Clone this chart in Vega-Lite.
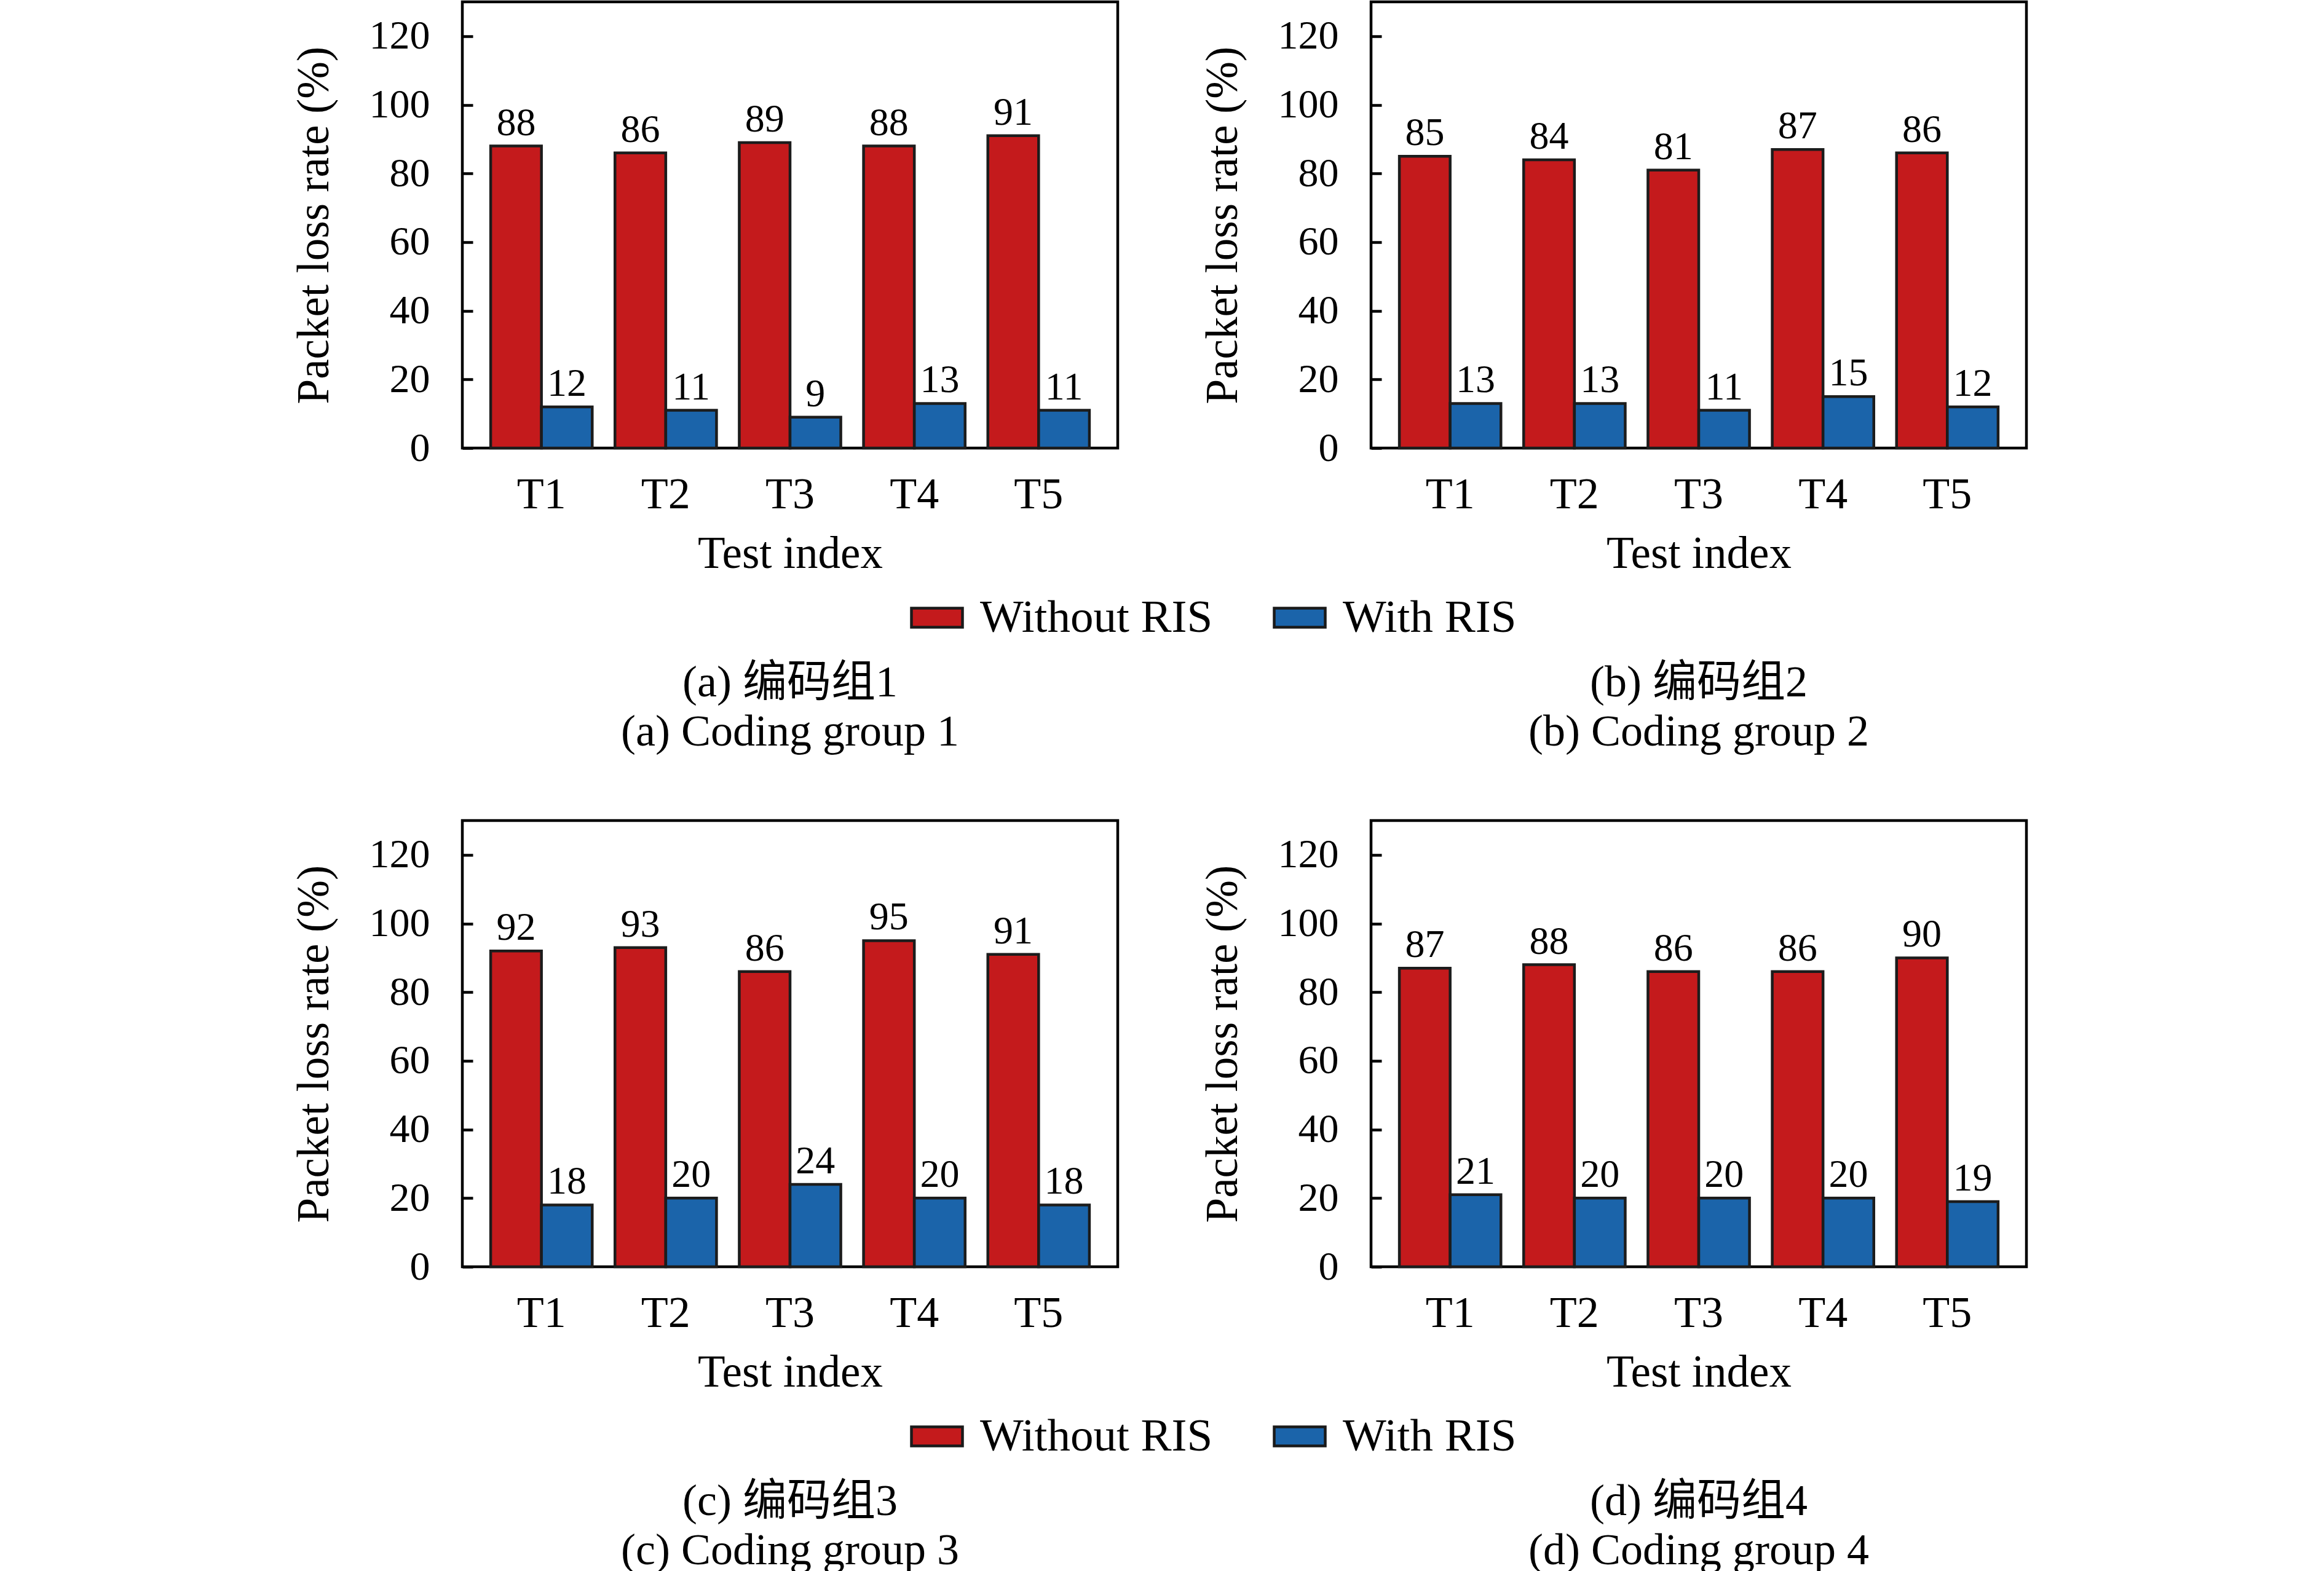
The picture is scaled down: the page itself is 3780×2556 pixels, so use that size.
{
  "$schema": "https://vega.github.io/schema/vega-lite/v6.json",
  "padding": {"left": 472, "top": 0, "right": 0, "bottom": 0},
  "datasets": {
    "bars": [
      {"panel": "a", "test": "T1", "method": "Without RIS", "value": 88},
      {"panel": "a", "test": "T2", "method": "Without RIS", "value": 86},
      {"panel": "a", "test": "T3", "method": "Without RIS", "value": 89},
      {"panel": "a", "test": "T4", "method": "Without RIS", "value": 88},
      {"panel": "a", "test": "T5", "method": "Without RIS", "value": 91},
      {"panel": "a", "test": "T1", "method": "With RIS", "value": 12},
      {"panel": "a", "test": "T2", "method": "With RIS", "value": 11},
      {"panel": "a", "test": "T3", "method": "With RIS", "value": 9},
      {"panel": "a", "test": "T4", "method": "With RIS", "value": 13},
      {"panel": "a", "test": "T5", "method": "With RIS", "value": 11},
      {"panel": "b", "test": "T1", "method": "Without RIS", "value": 85},
      {"panel": "b", "test": "T2", "method": "Without RIS", "value": 84},
      {"panel": "b", "test": "T3", "method": "Without RIS", "value": 81},
      {"panel": "b", "test": "T4", "method": "Without RIS", "value": 87},
      {"panel": "b", "test": "T5", "method": "Without RIS", "value": 86},
      {"panel": "b", "test": "T1", "method": "With RIS", "value": 13},
      {"panel": "b", "test": "T2", "method": "With RIS", "value": 13},
      {"panel": "b", "test": "T3", "method": "With RIS", "value": 11},
      {"panel": "b", "test": "T4", "method": "With RIS", "value": 15},
      {"panel": "b", "test": "T5", "method": "With RIS", "value": 12},
      {"panel": "c", "test": "T1", "method": "Without RIS", "value": 92},
      {"panel": "c", "test": "T2", "method": "Without RIS", "value": 93},
      {"panel": "c", "test": "T3", "method": "Without RIS", "value": 86},
      {"panel": "c", "test": "T4", "method": "Without RIS", "value": 95},
      {"panel": "c", "test": "T5", "method": "Without RIS", "value": 91},
      {"panel": "c", "test": "T1", "method": "With RIS", "value": 18},
      {"panel": "c", "test": "T2", "method": "With RIS", "value": 20},
      {"panel": "c", "test": "T3", "method": "With RIS", "value": 24},
      {"panel": "c", "test": "T4", "method": "With RIS", "value": 20},
      {"panel": "c", "test": "T5", "method": "With RIS", "value": 18},
      {"panel": "d", "test": "T1", "method": "Without RIS", "value": 87},
      {"panel": "d", "test": "T2", "method": "Without RIS", "value": 88},
      {"panel": "d", "test": "T3", "method": "Without RIS", "value": 86},
      {"panel": "d", "test": "T4", "method": "Without RIS", "value": 86},
      {"panel": "d", "test": "T5", "method": "Without RIS", "value": 90},
      {"panel": "d", "test": "T1", "method": "With RIS", "value": 21},
      {"panel": "d", "test": "T2", "method": "With RIS", "value": 20},
      {"panel": "d", "test": "T3", "method": "With RIS", "value": 20},
      {"panel": "d", "test": "T4", "method": "With RIS", "value": 20},
      {"panel": "d", "test": "T5", "method": "With RIS", "value": 19}
    ]
  },
  "config": {
    "font": "'Liberation Serif', 'Noto Sans CJK SC', serif",
    "view": {"stroke": "#000000", "strokeWidth": 4.5},
    "axis": {
      "grid": false,
      "domain": false,
      "labelFont": "'Liberation Serif', serif",
      "labelFontSize": 66,
      "labelColor": "#000000",
      "titleFont": "'Liberation Serif', serif",
      "titleFontSize": 73,
      "titleFontWeight": "normal",
      "titleColor": "#000000"
    },
    "axisX": {"ticks": false, "labelAngle": 0, "labelFontSize": 72, "labelPadding": 40, "titlePadding": 25},
    "axisY": {"tickSize": -17, "tickWidth": 4.5, "tickColor": "#000000", "labelPadding": 70, "titlePadding": 52},
    "legend": {
      "labelFont": "'Liberation Serif', serif",
      "labelFontSize": 75,
      "labelColor": "#000000",
      "labelLimit": 0,
      "labelOffset": 26,
      "columnPadding": 90,
      "symbolType": "M-1,-0.373H1V0.373H-1Z",
      "symbolSize": 6889,
      "symbolStrokeColor": "#1a1a1a",
      "symbolStrokeWidth": 4.5,
      "symbolOpacity": 1
    },
    "title": {
      "orient": "bottom",
      "anchor": "middle",
      "frame": "group",
      "font": "'Liberation Serif', 'Noto Sans CJK SC', serif",
      "fontSize": 72,
      "fontWeight": "normal",
      "lineHeight": 80,
      "offset": 138,
      "color": "#000000"
    }
  },
  "resolve": {"scale": {"color": "independent"}, "legend": {"color": "independent"}},
  "spacing": 102,
  "vconcat": [
    {
      "spacing": 129,
      "hconcat": [
        {
          "width": 1066,
          "height": 726,
          "title": {"text": ["(a) 编码组1", "(a) Coding group 1"]},
          "data": {"name": "bars"},
          "transform": [{"filter": "datum.panel === 'a'"}],
          "encoding": {
            "x": {"field": "test", "type": "nominal", "title": "Test index", "scale": {"paddingInner": 0.183, "paddingOuter": 0.228}},
            "xOffset": {"field": "method", "type": "nominal", "scale": {"domain": ["Without RIS", "With RIS"], "paddingInner": 0, "paddingOuter": 0}},
            "y": {"field": "value", "type": "quantitative", "title": "Packet loss rate (%)", "scale": {"domain": [0, 130], "nice": false}, "axis": {"values": [0, 20, 40, 60, 80, 100, 120]}}
          },
          "layer": [
            {
              "mark": {"type": "bar", "stroke": "#1c1c1c", "strokeWidth": 4.5},
              "encoding": {
                "color": {"field": "method", "type": "nominal", "scale": {"domain": ["Without RIS", "With RIS"], "range": ["#c41a1c", "#1b64aa"]}, "legend": {"title": null, "orient": "none", "direction": "horizontal", "legendX": 728, "legendY": 958}}
              }
            },
            {
              "mark": {"type": "text", "baseline": "alphabetic", "dy": -18, "fontSize": 64, "color": "#000000"},
              "encoding": {"text": {"field": "value", "type": "quantitative"}}
            }
          ]
        },
        {
          "width": 1066,
          "height": 726,
          "title": {"text": ["(b) 编码组2", "(b) Coding group 2"]},
          "data": {"name": "bars"},
          "transform": [{"filter": "datum.panel === 'b'"}],
          "encoding": {
            "x": {"field": "test", "type": "nominal", "title": "Test index", "scale": {"paddingInner": 0.183, "paddingOuter": 0.228}},
            "xOffset": {"field": "method", "type": "nominal", "scale": {"domain": ["Without RIS", "With RIS"], "paddingInner": 0, "paddingOuter": 0}},
            "y": {"field": "value", "type": "quantitative", "title": "Packet loss rate (%)", "scale": {"domain": [0, 130], "nice": false}, "axis": {"values": [0, 20, 40, 60, 80, 100, 120]}}
          },
          "layer": [
            {
              "mark": {"type": "bar", "stroke": "#1c1c1c", "strokeWidth": 4.5},
              "encoding": {
                "color": {"field": "method", "type": "nominal", "scale": {"domain": ["Without RIS", "With RIS"], "range": ["#c41a1c", "#1b64aa"]}, "legend": {"title": null, "orient": "none", "direction": "horizontal", "legendX": 728, "legendY": 958}}
              }
            },
            {
              "mark": {"type": "text", "baseline": "alphabetic", "dy": -18, "fontSize": 64, "color": "#000000"},
              "encoding": {"text": {"field": "value", "type": "quantitative"}}
            }
          ]
        }
      ]
    },
    {
      "spacing": 129,
      "hconcat": [
        {
          "width": 1066,
          "height": 726,
          "title": {"text": ["(c) 编码组3", "(c) Coding group 3"]},
          "data": {"name": "bars"},
          "transform": [{"filter": "datum.panel === 'c'"}],
          "encoding": {
            "x": {"field": "test", "type": "nominal", "title": "Test index", "scale": {"paddingInner": 0.183, "paddingOuter": 0.228}},
            "xOffset": {"field": "method", "type": "nominal", "scale": {"domain": ["Without RIS", "With RIS"], "paddingInner": 0, "paddingOuter": 0}},
            "y": {"field": "value", "type": "quantitative", "title": "Packet loss rate (%)", "scale": {"domain": [0, 130], "nice": false}, "axis": {"values": [0, 20, 40, 60, 80, 100, 120]}}
          },
          "layer": [
            {
              "mark": {"type": "bar", "stroke": "#1c1c1c", "strokeWidth": 4.5},
              "encoding": {
                "color": {"field": "method", "type": "nominal", "scale": {"domain": ["Without RIS", "With RIS"], "range": ["#c41a1c", "#1b64aa"]}, "legend": {"title": null, "orient": "none", "direction": "horizontal", "legendX": 728, "legendY": 958}}
              }
            },
            {
              "mark": {"type": "text", "baseline": "alphabetic", "dy": -18, "fontSize": 64, "color": "#000000"},
              "encoding": {"text": {"field": "value", "type": "quantitative"}}
            }
          ]
        },
        {
          "width": 1066,
          "height": 726,
          "title": {"text": ["(d) 编码组4", "(d) Coding group 4"]},
          "data": {"name": "bars"},
          "transform": [{"filter": "datum.panel === 'd'"}],
          "encoding": {
            "x": {"field": "test", "type": "nominal", "title": "Test index", "scale": {"paddingInner": 0.183, "paddingOuter": 0.228}},
            "xOffset": {"field": "method", "type": "nominal", "scale": {"domain": ["Without RIS", "With RIS"], "paddingInner": 0, "paddingOuter": 0}},
            "y": {"field": "value", "type": "quantitative", "title": "Packet loss rate (%)", "scale": {"domain": [0, 130], "nice": false}, "axis": {"values": [0, 20, 40, 60, 80, 100, 120]}}
          },
          "layer": [
            {
              "mark": {"type": "bar", "stroke": "#1c1c1c", "strokeWidth": 4.5},
              "encoding": {
                "color": {"field": "method", "type": "nominal", "scale": {"domain": ["Without RIS", "With RIS"], "range": ["#c41a1c", "#1b64aa"]}, "legend": {"title": null, "orient": "none", "direction": "horizontal", "legendX": 728, "legendY": 958}}
              }
            },
            {
              "mark": {"type": "text", "baseline": "alphabetic", "dy": -18, "fontSize": 64, "color": "#000000"},
              "encoding": {"text": {"field": "value", "type": "quantitative"}}
            }
          ]
        }
      ]
    }
  ]
}
